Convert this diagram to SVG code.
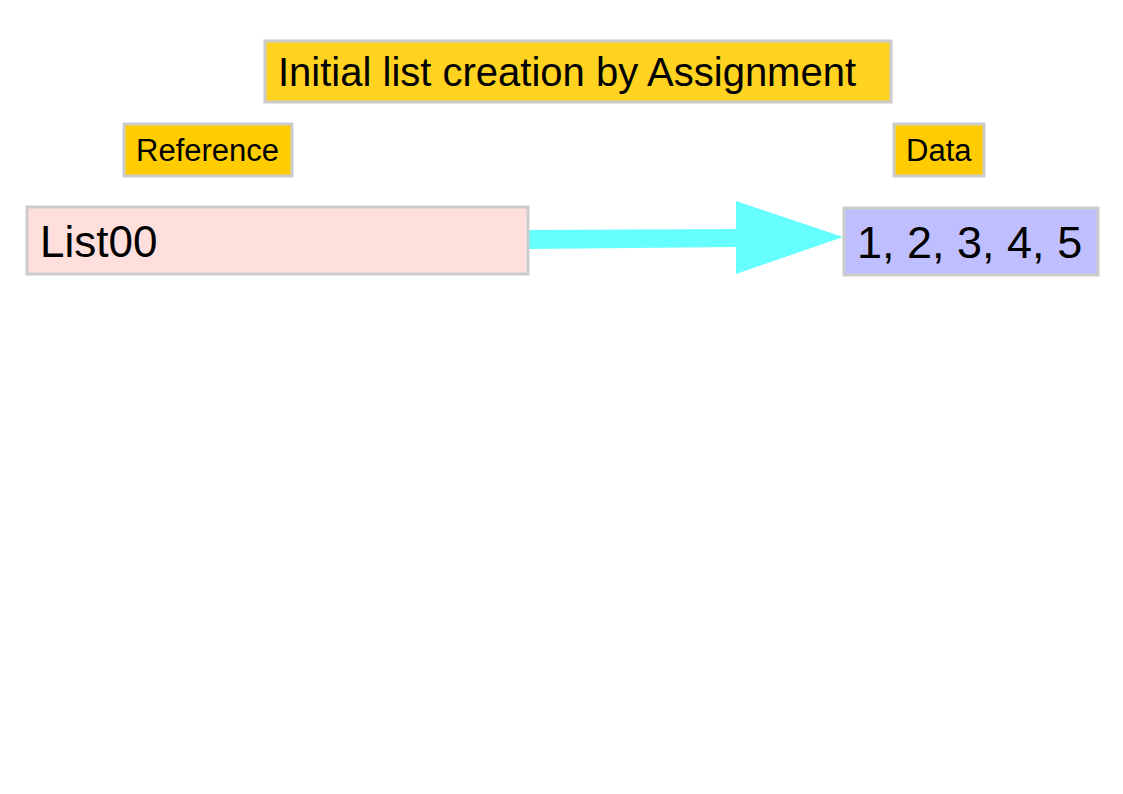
<svg xmlns="http://www.w3.org/2000/svg" width="1123" height="794" viewBox="0 0 1123 794">
<style>
.box{stroke:#cccccc;stroke-width:3}
.t{font-family:"Liberation Sans",Arial,sans-serif;fill:#000}
</style>
<rect width="1123" height="794" fill="#ffffff"/>
<g id="title">
<rect class="box" x="265" y="41" width="626" height="61" fill="#ffd320"/>
<text class="t" x="278" y="86" font-size="40">Initial list creation by Assignment</text>
</g>
<g id="label-reference">
<rect class="box" x="124" y="124" width="168" height="52" fill="#ffcc00"/>
<text class="t" x="136" y="161" font-size="31">Reference</text>
</g>
<g id="label-data">
<rect class="box" x="894" y="124" width="90" height="52" fill="#ffcc00"/>
<text class="t" x="906" y="161" font-size="31">Data</text>
</g>
<g id="connectors">
<polygon points="529,230 736,229 736,201 843,237 736,274 736,247 529,249" fill="#66ffff"/>
</g>
<g id="list00">
<rect class="box" x="27" y="207" width="501" height="67" fill="#ffdfdc"/>
<text class="t" x="40" y="257" font-size="44">List00</text>
</g>
<g id="data-values">
<rect class="box" x="844" y="208" width="254" height="67" fill="#bfbfff"/>
<text class="t" x="857" y="258" font-size="45">1, 2, 3, 4, 5</text>
</g>
</svg>
